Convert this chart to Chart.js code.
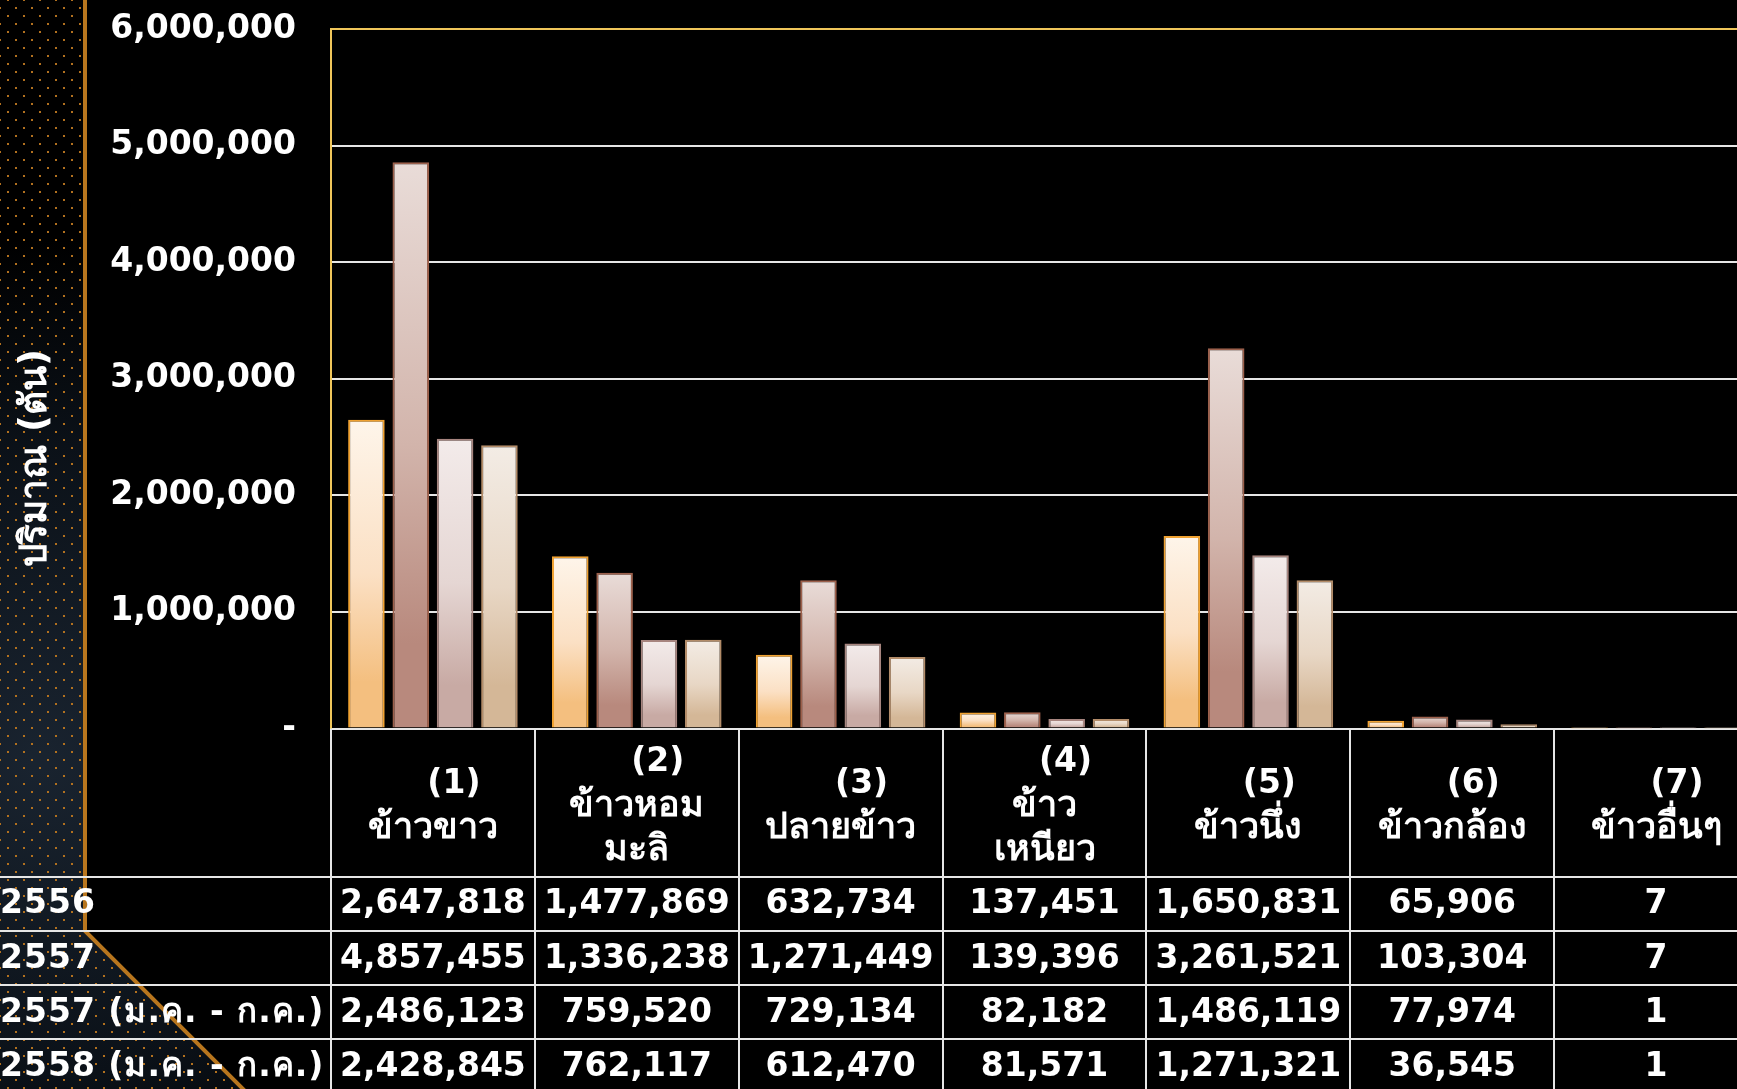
<!DOCTYPE html>
<html>
<head>
<meta charset="utf-8">
<script src="https://cdn.jsdelivr.net/npm/chart.js@4.4.1/dist/chart.umd.min.js"></script>
<style>
  html, body { margin: 0; padding: 0; background: #000; overflow: hidden; }
  #wrap { position: absolute; left: 0; top: 0; width: 1760px; height: 1100px; }
</style>
</head>
<body>
<div id="wrap"><canvas id="riceChart"></canvas></div>
<script>
// ปริมาณการส่งออกข้าวแยกตามชนิด (ตัน)
const categories = ['ข้าวขาว', 'ข้าวหอมมะลิ', 'ปลายข้าว', 'ข้าวเหนียว', 'ข้าวนึ่ง', 'ข้าวกล้อง', 'ข้าวอื่นๆ'];
const categoryLines = [
  ['(1)', 'ข้าวขาว'],
  ['(2)', 'ข้าวหอม', 'มะลิ'],
  ['(3)', 'ปลายข้าว'],
  ['(4)', 'ข้าว', 'เหนียว'],
  ['(5)', 'ข้าวนึ่ง'],
  ['(6)', 'ข้าวกล้อง'],
  ['(7)', 'ข้าวอื่นๆ']
];
const seriesNames = ['2556', '2557', '2557 (ม.ค. - ก.ค.)', '2558 (ม.ค. - ก.ค.)'];
const values2556 = [2647818, 1477869, 632734, 137451, 1650831, 65906, 7];
const values2557 = [4857455, 1336238, 1271449, 139396, 3261521, 103304, 7];
const values2557Jul = [2486123, 759520, 729134, 82182, 1486119, 77974, 1];
const values2558Jul = [2428845, 762117, 612470, 81571, 1271321, 36545, 1];
const yMax = 6000000;
const yStep = 1000000;
const yTitle = 'ปริมาณ (ตัน)';

const FONT = "'DejaVu Sans', 'Noto Sans', sans-serif";
const GOLD = '#f0c65a';
const LINE = '#e6e6e6';

// gradient colours per series: [top, middle, bottom], border
const seriesStyles = [
  { stops: ['#fef5ea', '#fbe0c4', '#f4bf7f'], border: '#f0a232' },
  { stops: ['#e9dcd8', '#d2b4ab', '#b8897d'], border: '#9c604c' },
  { stops: ['#f3ebea', '#e5d6d3', '#c8aaa4'], border: '#a7857f' },
  { stops: ['#f3ece5', '#e8d7c5', '#d4b797'], border: '#b38c69' }
];

function barFill(style) {
  return function(ctx) {
    const chart = ctx.chart;
    if (!chart.chartArea || ctx.type !== 'data') return style.stops[2];
    const y = chart.scales.y;
    const top = y.getPixelForValue(ctx.raw);
    const bottom = y.getPixelForValue(0);
    if (bottom - top < 2) return style.stops[1];
    const g = chart.ctx.createLinearGradient(0, top, 0, bottom);
    g.addColorStop(0, style.stops[0]);
    g.addColorStop(0.5, style.stops[1]);
    g.addColorStop(0.85, style.stops[2]);
    g.addColorStop(1, style.stops[2]);
    return g;
  };
}

const allValues = [values2556, values2557, values2557Jul, values2558Jul];

// พื้นหลังลายจุดด้านซ้าย
const backdrop = {
  id: 'backdrop',
  beforeDraw(chart) {
    const c = chart.ctx;
    c.save();
    c.fillStyle = '#000';
    c.fillRect(0, 0, chart.width, chart.height);
    c.beginPath();
    c.moveTo(0, 0);
    c.lineTo(85, 0);
    c.lineTo(85, 931);
    c.lineTo(85 + 190, 931 + 190);
    c.lineTo(0, 1121);
    c.closePath();
    const g = c.createRadialGradient(40, 760, 10, 40, 760, 520);
    g.addColorStop(0, '#19232f');
    g.addColorStop(0.6, '#0b1118');
    g.addColorStop(1, '#000');
    c.fillStyle = g;
    c.fill();
    c.clip();
    c.fillStyle = '#b2711f';
    for (let r = 0, y = 0; y < chart.height; r++, y += 8) {
      for (let x = (r % 2) ? 0 : 8; x < 320; x += 16) c.fillRect(x - 1, y - 1, 2, 2);
    }
    c.restore();
    c.save();
    c.strokeStyle = '#b8761e';
    c.lineWidth = 4;
    c.beginPath();
    c.moveTo(85, 0);
    c.lineTo(85, 931);
    c.lineTo(85 + 190, 931 + 190);
    c.stroke();
    c.restore();
  },
  afterDraw(chart) {
    const c = chart.ctx;
    c.save();
    c.translate(36, 458);
    c.rotate(-Math.PI / 2);
    c.fillStyle = '#fff';
    c.font = 'bold 37px ' + FONT;
    c.textAlign = 'center';
    c.textBaseline = 'middle';
    c.fillText(yTitle, 0, 0);
    c.restore();
  }
};

// ตารางข้อมูลใต้กราฟ
const dataTable = {
  id: 'dataTable',
  afterDraw(chart) {
    const c = chart.ctx;
    const xs = chart.scales.x;
    const area = chart.chartArea;
    const headTop = area.bottom;
    const headBottom = headTop + 148;
    const rowH = 54.3;
    c.save();
    c.strokeStyle = LINE;
    c.lineWidth = 2;
    for (let i = 0; i <= categories.length; i++) {
      const x = Math.round(xs.getPixelForValue(i - 0.5));
      c.beginPath();
      c.moveTo(x, headTop);
      c.lineTo(x, chart.height);
      c.stroke();
    }
    for (let k = 0; k <= seriesNames.length; k++) {
      const y = Math.round(headBottom + k * rowH);
      c.beginPath();
      c.moveTo(0, y);
      c.lineTo(chart.width, y);
      c.stroke();
    }
    c.fillStyle = '#fff';
    c.textBaseline = 'middle';
    // header
    c.textAlign = 'center';
    const lh = 44;
    categoryLines.forEach((lines, i) => {
      const cx = xs.getPixelForValue(i);
      const midY = (headTop + headBottom) / 2 + 4;
      const y0 = midY - (lines.length - 1) * lh / 2;
      lines.forEach((t, j) => {
        c.font = (j === 0 ? 'bold 33px ' : 'bold 36px ') + FONT;
        c.fillText(t, cx + (j === 0 ? 21 : 0), y0 + j * lh);
      });
    });
    // rows
    seriesNames.forEach((name, k) => {
      const cy = headBottom + k * rowH + rowH / 2 + 1;
      c.font = 'bold 33px ' + FONT;
      c.textAlign = 'left';
      c.letterSpacing = '1px';
      c.fillText(name, 0, cy);
      c.letterSpacing = '0px';
      c.textAlign = 'center';
      allValues[k].forEach((v, i) => {
        c.fillText(v.toLocaleString('en-US'), xs.getPixelForValue(i), cy);
      });
    });
    c.restore();
  }
};

const ctx = document.getElementById('riceChart').getContext('2d');

new Chart(ctx, {
  type: 'bar',
  data: {
    labels: categories,
    datasets: allValues.map((vals, k) => ({
      label: seriesNames[k],
      data: vals,
      backgroundColor: barFill(seriesStyles[k]),
      borderColor: seriesStyles[k].border,
      borderWidth: 2,
      borderSkipped: 'bottom',
      barPercentage: 0.825,
      categoryPercentage: 0.87
    }))
  },
  options: {
    responsive: true,
    maintainAspectRatio: false,
    animation: false,
    events: [],
    layout: { padding: { left: 0, top: 29, right: 2, bottom: 371.5 } },
    plugins: {
      legend: { display: false },
      tooltip: { enabled: false }
    },
    scales: {
      x: { display: false },
      y: {
        min: 0,
        max: yMax,
        afterFit(scale) { scale.width = 331; },
        border: { display: true, color: GOLD, width: 2 },
        grid: {
          drawTicks: true,
          tickLength: 35,
          tickColor: 'rgba(0,0,0,0)',
          lineWidth: 2,
          color: (c) => c.tick && c.tick.value === yMax ? GOLD : LINE
        },
        ticks: {
          stepSize: yStep,
          padding: 0,
          color: '#fff',
          font: { family: FONT, size: 33, weight: 'bold' },
          callback: (v) => v === 0 ? '-' : Number(v).toLocaleString('en-US')
        }
      }
    }
  },
  plugins: [backdrop, dataTable]
});
</script>
</body>
</html>
